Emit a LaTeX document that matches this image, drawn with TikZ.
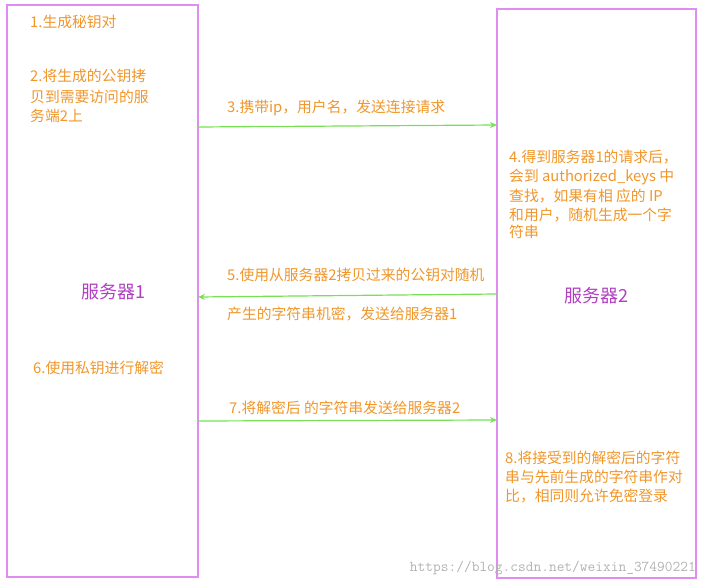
\documentclass[tikz,border=0pt]{standalone}
\usepackage{fontspec}
\newfontfamily\cjk{Noto Sans CJK SC}
\usetikzlibrary{arrows.meta}
\definecolor{boxc}{HTML}{E08CF0}
\definecolor{txt}{HTML}{F0962A}
\definecolor{arr}{HTML}{77E055}
\definecolor{srv}{HTML}{B040C0}
\tikzset{
 sbox/.style={draw=boxc,line width=1.2pt},
 lab/.style={anchor=west,text=txt,font=\cjk\fontsize{14.8}{16}\selectfont,inner sep=0pt},
 srvl/.style={text=srv,font=\cjk\fontsize{18}{20}\selectfont},
 msg/.style={draw=arr,line width=1.2pt,-{Stealth[length=7pt,width=6pt]}}
}
\begin{document}
\begin{tikzpicture}[x=1pt,y=-1pt]
\useasboundingbox (0,0) rectangle (707,588);
\draw[sbox] (7,5) rectangle (198,577);
\draw[sbox] (497,9) rectangle (696,578);
\coordinate (l3) at (198,127); \coordinate (r3) at (497,125);
\coordinate (r5) at (497,294); \coordinate (l5) at (198,297);
\coordinate (l7) at (198,421); \coordinate (r7) at (497,420);
\draw[msg] (l3) -- (r3);
\draw[msg] (r5) -- (l5);
\draw[msg] (l7) -- (r7);
\node[srvl] (s1) at (113,292) {服务器1};
\node[srvl] (s2) at (596,296) {服务器2};
\node[lab] (t1) at (30,22) {1.生成秘钥对};
\node[lab] (t2a) at (30,76) {2.将生成的公钥拷};
\node[lab] (t2b) at (30,97) {贝到需要访问的服};
\node[lab] (t2c) at (30,116) {务端2上};
\node[lab] (t3) at (227,108) {3.携带ip，用户名，发送连接请求};
\node[lab] (t4a) at (509,157) {4.得到服务器1的请求后，};
\node[lab] (t4b) at (509,177) {会到 authorized\_keys 中};
\node[lab] (t4c) at (509,196) {查找，如果有相 应的 IP};
\node[lab] (t4d) at (509,215) {和用户，随机生成一个字};
\node[lab] (t4e) at (509,232) {符串};
\node[lab] (t5a) at (227,275) {5.使用从服务器2拷贝过来的公钥对随机};
\node[lab] (t5b) at (227,314) {产生的字符串机密，发送给服务器1};
\node[lab] (t6) at (33,368) {6.使用私钥进行解密};
\node[lab] (t7) at (229,408) {7.将解密后 的字符串发送给服务器2};
\node[lab] (t8a) at (505,458) {8.将接受到的解密后的字符};
\node[lab] (t8b) at (505,477) {串与先前生成的字符串作对};
\node[lab] (t8c) at (505,496) {比，相同则允许免密登录};
\node[anchor=east,text=gray!60,font=\ttfamily\fontsize{15}{16}\selectfont,inner sep=0pt] (wm) at (696,568) {https://blog.csdn.net/weixin\_37490221};
\end{tikzpicture}
\end{document}
